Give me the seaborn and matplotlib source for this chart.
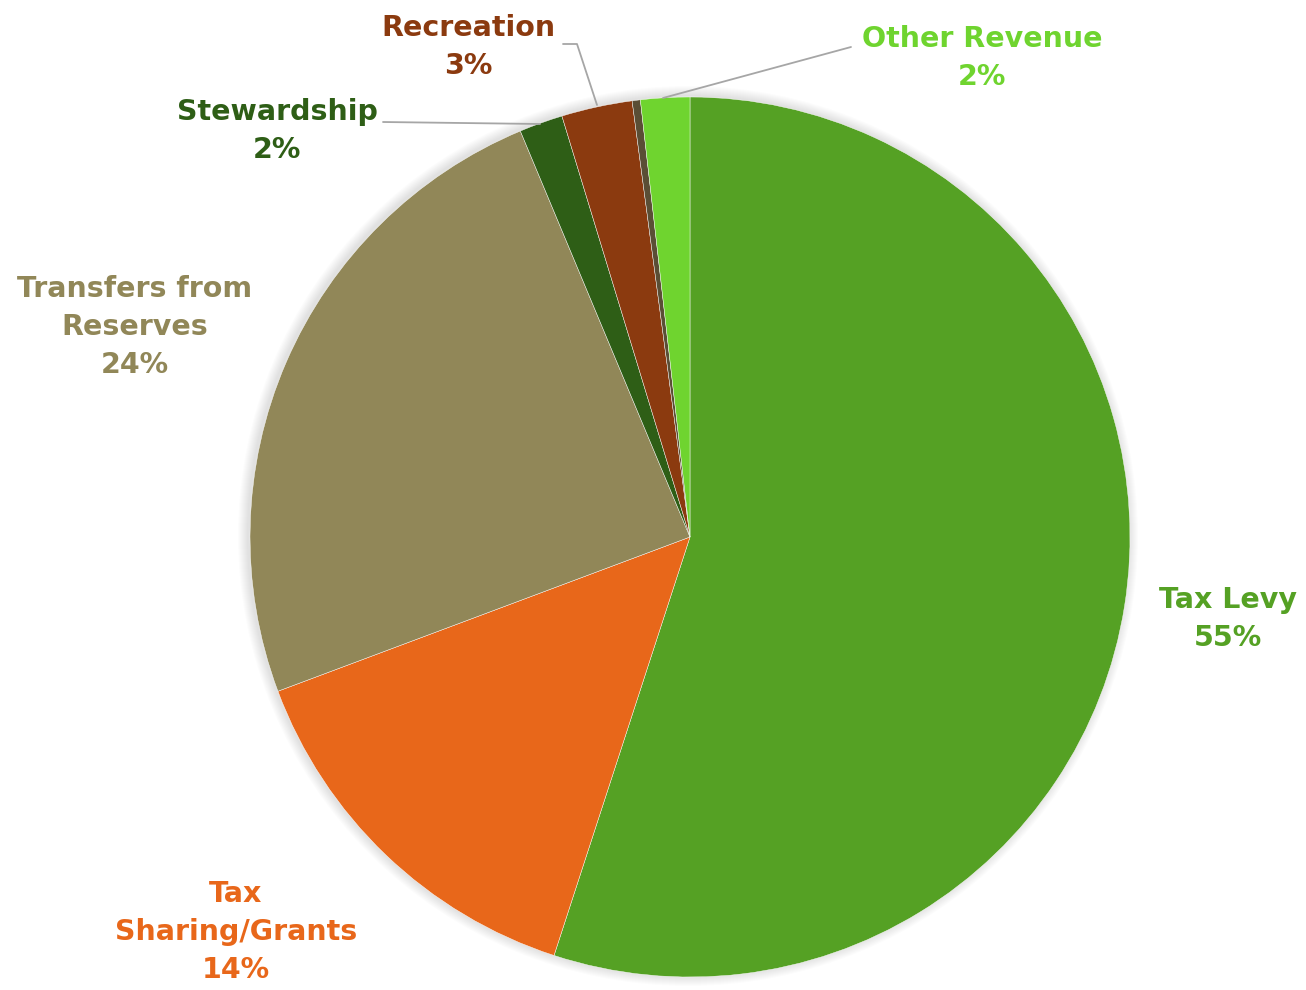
import matplotlib
matplotlib.use("Agg")
import matplotlib.pyplot as plt
import seaborn as sns
from matplotlib.patches import Circle

sns.set_theme(style="white")
plt.rcParams['font.family'] = ['DejaVu Sans']

# ---- data ----
categories = ["Tax Levy", "Tax Sharing/Grants", "Transfers from Reserves",
              "Stewardship", "Recreation", "Other", "Other Revenue"]
shares = [55.0, 14.3, 24.4, 1.6, 2.6, 0.3, 1.8]
label_lines = ["Tax Levy", "Tax\nSharing/Grants", "Transfers from\nReserves",
               "Stewardship", "Recreation", None, "Other Revenue"]
colors = ["#55A124", "#E8671A", "#918758", "#2E5E16", "#8B3A0F", "#5A4E35", "#6FD42F"]

# ---- layout ----
W, H = 1306, 990
fig = plt.figure(figsize=(W / 100, H / 100), dpi=100)
ax = fig.add_axes([0, 0, 1, 1])

cx, cy, R = 690, 990 - 537, 440

# soft shadow
for k in range(10, 0, -1):
    ax.add_patch(Circle((cx - 2, cy + 1), R + k, color="black", alpha=0.012, lw=0, zorder=0))

wedges, _ = ax.pie(shares, colors=colors, startangle=90, counterclock=False,
                   center=(cx, cy), radius=R, frame=True,
                   wedgeprops=dict(linewidth=0.3, edgecolor="white"))
ax.set_xlim(0, W)
ax.set_ylim(0, H)
ax.set_aspect("equal")
ax.axis("off")

label_pos = [(1228, 990 - 619), (236, 990 - 932), (135, 990 - 327),
             (277, 990 - 131), (468, 990 - 47), None, (982, 990 - 58)]

for name, val, col, pos in zip(label_lines, shares, colors, label_pos):
    if name is None:
        continue
    txt = f"{name}\n{round(val):d}%"
    ax.text(pos[0], pos[1], txt, ha="center", va="center", color=col,
            fontsize=20.5, fontweight="bold", linespacing=1.47, zorder=5)

# leader lines
lc = "#A6A6A6"
ax.plot([383, 540], [868, 866], color=lc, lw=1.3, zorder=4)
ax.plot([563, 577, 597], [946, 946, 885], color=lc, lw=1.3, zorder=4)
ax.plot([851, 663], [943, 892], color=lc, lw=1.3, zorder=4)

fig.savefig("out.png", dpi=100, facecolor="white")
